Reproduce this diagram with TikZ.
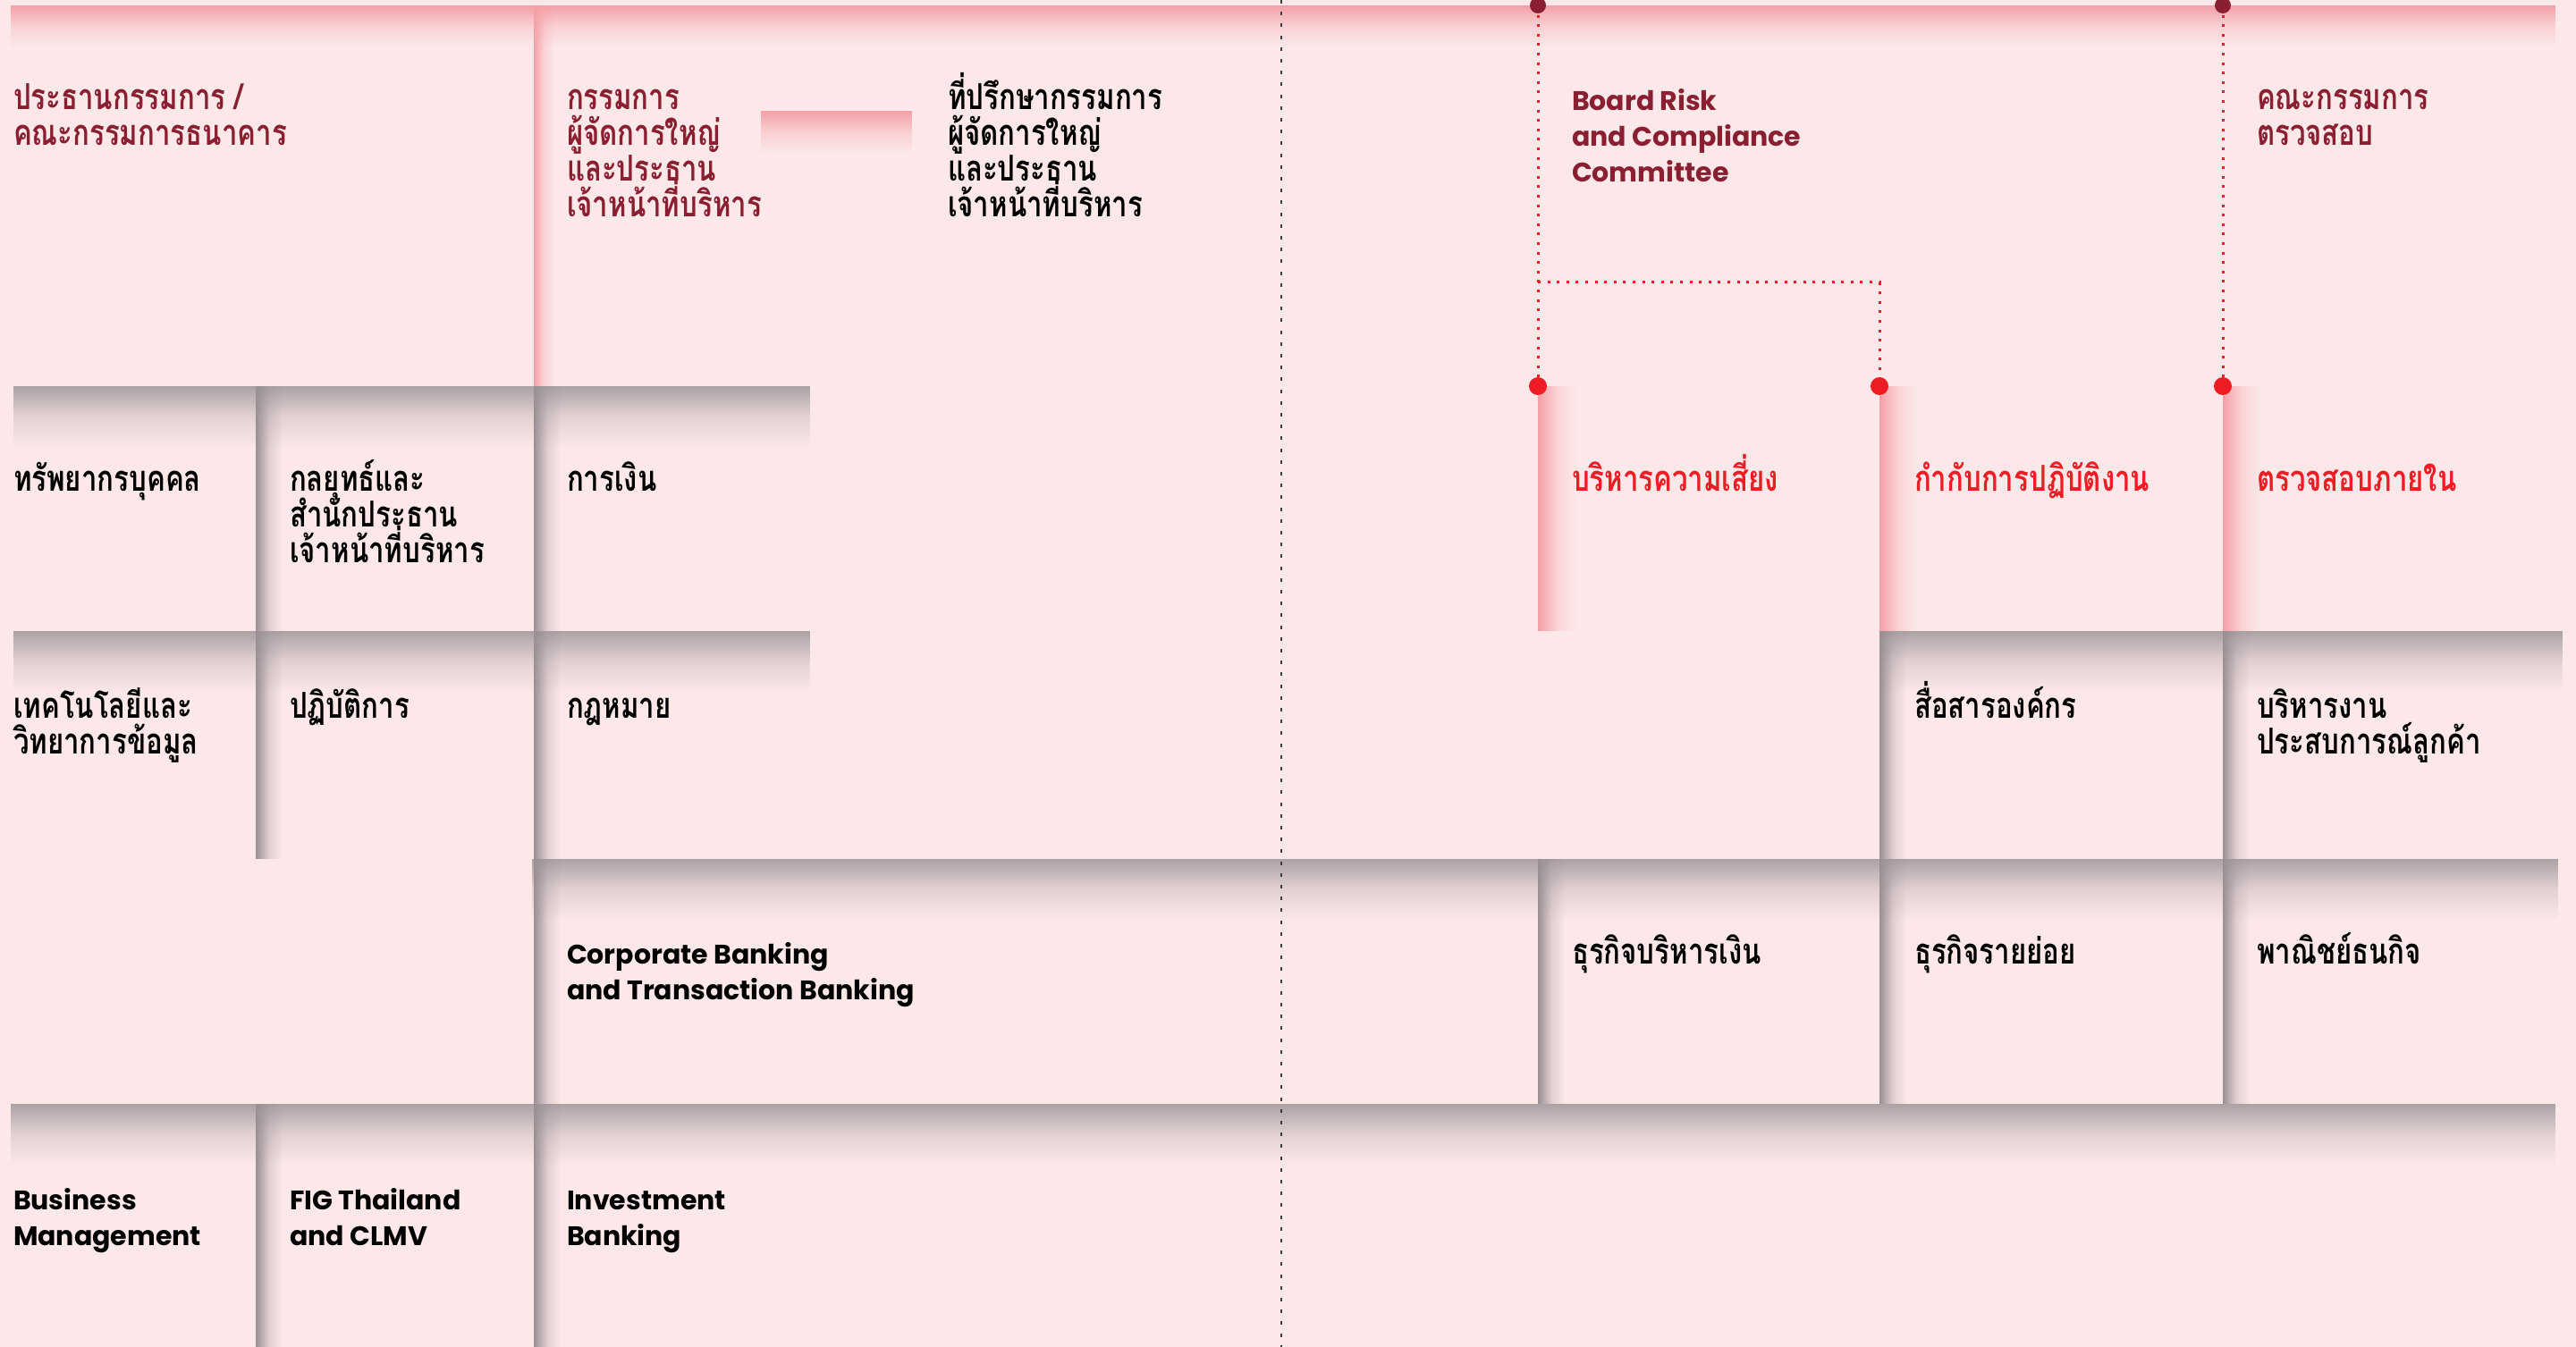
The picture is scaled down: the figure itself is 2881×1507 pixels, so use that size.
\documentclass[tikz,border=0pt]{standalone}
\usepackage{fontspec}
\newfontfamily\thai[Script=Thai, FakeStretch=0.78]{Loma}
\newfontfamily\latn{Poppins}
\usetikzlibrary{fadings}

\definecolor{paper}{HTML}{FCE8E9}
\definecolor{greyshadow}{HTML}{ACA2A5}
\definecolor{greyedge}{HTML}{9A9094}
\definecolor{pinkshadow}{HTML}{F4A0A6}
\definecolor{boardred}{HTML}{8A1F32}
\definecolor{unitred}{HTML}{EE1D25}
\definecolor{guide}{HTML}{3C3C3C}

\tikzfading[name=fadedown, top color=transparent!0, bottom color=transparent!100, middle color=transparent!68]
\tikzfading[name=faderight, left color=transparent!0, right color=transparent!100, middle color=transparent!72]

% lines of a label, the node base sits on the first baseline
\newcommand\stack[1]{\vtop{\baselineskip=20pt\lineskiplimit=-100pt\lineskip=0pt\halign{##\hfil\cr#1\crcr}}}

\tikzset{
  x=0.5pt, y=0.5pt,
  lbl/.style={anchor=base west, inner sep=0pt, outer sep=0pt},
  thaitext/.style={lbl, font=\thai\bfseries\fontsize{20}{20}\selectfont},
  latntext/.style={lbl, font=\latn\bfseries\fontsize{15}{20}\selectfont},
  board/.style={text=boardred},
  unit/.style={text=black},
  control/.style={text=unitred},
  topshadow/.style={fill=#1, path fading=fadedown},
  leftshadow/.style={fill=#1, path fading=faderight},
  link/.style={unitred, line width=1.5pt, dash pattern=on 1.5pt off 3.8pt},
  topdot/.style={circle, fill=boardred, minimum size=9pt, inner sep=0pt},
  enddot/.style={circle, fill=unitred, minimum size=10pt, inner sep=0pt},
  guideline/.style={guide, line width=0.7pt, dash pattern=on 2pt off 4.6pt},
}

\begin{document}
\begin{tikzpicture}
\useasboundingbox (0,0) rectangle (2881,-1507);
\fill[paper] (0,0) rectangle (2881,-1507);

% board level band
\fill[topshadow=pinkshadow] (15,-6) rectangle (2866,-52);
\fill[leftshadow=pinkshadow] (597,-6) rectangle (620,-432);
\fill[topshadow=pinkshadow] (851,-124) rectangle (1020,-172);

% second row
\fill[topshadow=greyshadow] (15,-432) rectangle (906,-500);
\fill[leftshadow=greyedge] (286,-432) rectangle (316,-706);
\fill[leftshadow=greyedge] (597,-432) rectangle (627,-706);
\fill[leftshadow=pinkshadow] (1720,-432) rectangle (1762,-706);
\fill[leftshadow=pinkshadow] (2102,-432) rectangle (2144,-706);
\fill[leftshadow=pinkshadow] (2486,-432) rectangle (2528,-706);

% third row
\fill[topshadow=greyshadow] (15,-706) rectangle (906,-774);
\fill[topshadow=greyshadow] (2102,-706) rectangle (2866,-774);
\fill[leftshadow=greyedge] (286,-706) rectangle (316,-961);
\fill[leftshadow=greyedge] (597,-706) rectangle (627,-961);
\fill[leftshadow=greyedge] (2102,-706) rectangle (2132,-961);
\fill[leftshadow=greyedge] (2486,-706) rectangle (2516,-961);

% fourth row
\fill[topshadow=greyshadow] (597,-961) rectangle (2866,-1029);
\fill[leftshadow=greyedge] (597,-961) rectangle (627,-1235);
\fill[leftshadow=greyedge] (1720,-961) rectangle (1750,-1235);
\fill[leftshadow=greyedge] (2102,-961) rectangle (2132,-1235);
\fill[leftshadow=greyedge] (2486,-961) rectangle (2516,-1235);

% fifth row
\fill[topshadow=greyshadow] (15,-1235) rectangle (2866,-1303);
\fill[leftshadow=greyedge] (286,-1235) rectangle (316,-1507);
\fill[leftshadow=greyedge] (597,-1235) rectangle (627,-1507);

% dashed divider
\coordinate (gtop) at (1433,0);
\coordinate (gbot) at (1433,-1507);
\draw[guideline] (gtop) -- (gbot);

% reporting lines of the committees
\coordinate (rkc) at (1720,-6);
\coordinate (auc) at (2486,-6);
\coordinate (riskc) at (1720,-432);
\coordinate (compc) at (2102,-432);
\coordinate (auditc) at (2486,-432);
\coordinate (split) at (1720,-316);
\draw[link] (rkc) -- (riskc);
\draw[link] (split) -| (compc);
\draw[link] (auc) -- (auditc);
\node[topdot] (rk) at (rkc) {};
\node[topdot] (au) at (auc) {};
\node[enddot] (risk) at (riskc) {};
\node[enddot] (comp) at (compc) {};
\node[enddot] (audit) at (auditc) {};

% board level
\node[thaitext, board] (chair) at (15,-123) {\stack{ประธานกรรมการ /\cr คณะกรรมการธนาคาร}};
\node[thaitext, board] (ceo) at (634,-123) {\stack{กรรมการ\cr ผู้จัดการใหญ่\cr และประธาน\cr เจ้าหน้าที่บริหาร}};
\node[thaitext, unit] (advisor) at (1060,-123) {\stack{ที่ปรึกษากรรมการ\cr ผู้จัดการใหญ่\cr และประธาน\cr เจ้าหน้าที่บริหาร}};
\node[latntext, board] (brcc) at (1758,-124) {\stack{Board Risk\cr and Compliance\cr Committee}};
\node[thaitext, board] (ac) at (2524,-123) {\stack{คณะกรรมการ\cr ตรวจสอบ}};

% second row
\node[thaitext, unit] (hr) at (15,-550) {\stack{ทรัพยากรบุคคล}};
\node[thaitext, unit] (strat) at (324,-550) {\stack{กลยุทธ์และ\cr สำนักประธาน\cr เจ้าหน้าที่บริหาร}};
\node[thaitext, unit] (fin) at (634,-550) {\stack{การเงิน}};
\node[thaitext, control] (riskl) at (1758,-550) {\stack{บริหารความเสี่ยง}};
\node[thaitext, control] (compl) at (2141,-550) {\stack{กำกับการปฏิบัติงาน}};
\node[thaitext, control] (auditl) at (2524,-550) {\stack{ตรวจสอบภายใน}};

% third row
\node[thaitext, unit] (tech) at (15,-804) {\stack{เทคโนโลยีและ\cr วิทยาการข้อมูล}};
\node[thaitext, unit] (ops) at (324,-804) {\stack{ปฏิบัติการ}};
\node[thaitext, unit] (legal) at (634,-804) {\stack{กฎหมาย}};
\node[thaitext, unit] (comm) at (2141,-804) {\stack{สื่อสารองค์กร}};
\node[thaitext, unit] (cx) at (2524,-804) {\stack{บริหารงาน\cr ประสบการณ์ลูกค้า}};

% fourth row
\node[latntext, unit] (corp) at (634,-1078) {\stack{Corporate Banking\cr and Transaction Banking}};
\node[thaitext, unit] (treas) at (1758,-1078) {\stack{ธุรกิจบริหารเงิน}};
\node[thaitext, unit] (retail) at (2141,-1078) {\stack{ธุรกิจรายย่อย}};
\node[thaitext, unit] (comme) at (2524,-1078) {\stack{พาณิชย์ธนกิจ}};

% fifth row
\node[latntext, unit] (bm) at (15,-1353) {\stack{Business\cr Management}};
\node[latntext, unit] (fig) at (324,-1353) {\stack{FIG Thailand\cr and CLMV}};
\node[latntext, unit] (ib) at (634,-1353) {\stack{Investment\cr Banking}};
\end{tikzpicture}
\end{document}
